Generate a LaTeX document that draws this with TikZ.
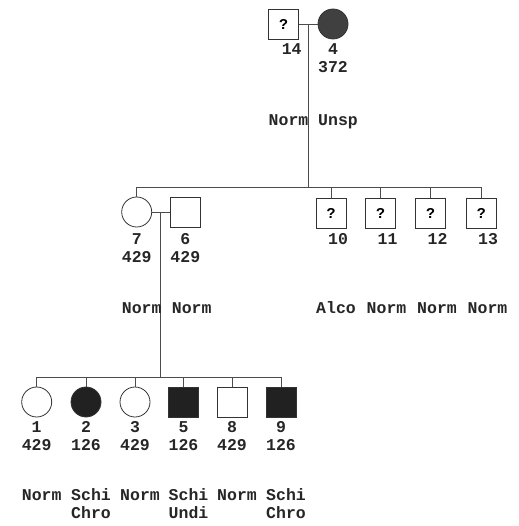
\documentclass[tikz,border=0pt]{standalone}
\usepackage{fontspec}
\newfontfamily\pedfont{Liberation Mono}
\begin{document}
\begin{tikzpicture}[x=1pt,y=-1pt,
  ln/.style={line width=0.6pt, draw=black!70},
  shp/.style={draw=black!80, line width=0.8pt, inner sep=0pt, minimum size=30pt, font=\pedfont\bfseries\fontsize{15}{18}\selectfont},
  male/.style={shp, rectangle},
  female/.style={shp, circle},
  aff/.style={fill=black!87},
  txt/.style={font=\pedfont\bfseries\fontsize{16.5}{18}\selectfont, inner sep=0pt, anchor=base, text=black!85},
  word/.style={txt, anchor=base west}]
\useasboundingbox (0,0) rectangle (518,526);

% generation 1
\node[male] (p14) at (283.5,24) {?};
\node[female,aff,fill=black!75] (p4) at (333,24) {};
\draw[ln] (p14.east) -- (p4.west);
\coordinate (c1) at (308,24);
\coordinate (s1) at (308,187);
\draw[ln] (c1) -- (s1);
\node[txt] (l14a) at (291.7,55) {14};
\node[txt] (l4a) at (333,55) {4};
\node[txt] (l4b) at (333,72.5) {372};
\node[word] (w14) at (268.5,126) {Norm};
\node[word] (w4) at (318,126) {Unsp};

% generation 2
\node[female] (p7) at (136.7,212) {};
\node[male] (p6) at (185.3,212) {};
\node[male] (p10) at (331,213.5) {?};
\node[male] (p11) at (380.5,213.5) {?};
\node[male] (p12) at (430.5,213.5) {?};
\node[male] (p13) at (481.3,213.5) {?};
\draw[ln] (p7.north |- s1) -- (p13.north |- s1);
\foreach \p in {p7,p10,p11,p12,p13} \draw[ln] (\p.north) -- (\p.north |- s1);
\draw[ln] (p7.east) -- (p6.west);
\coordinate (c2) at (160.7,212);
\coordinate (s2) at (160.7,377);
\draw[ln] (c2) -- (s2);

\node[txt] (l7a) at (136.7,244) {7};
\node[txt] (l7b) at (136.7,262) {429};
\node[txt] (l6a) at (185.3,244) {6};
\node[txt] (l6b) at (185.3,262) {429};
\node[txt] (l10) at (338,244.5) {10};
\node[txt] (l11) at (387.5,244.5) {11};
\node[txt] (l12) at (437.5,244.5) {12};
\node[txt] (l13) at (488,244.5) {13};

\node[word] (w7) at (121.7,313) {Norm};
\node[word] (w6) at (171.7,313) {Norm};
\node[word] (w10) at (316,313) {Alco};
\node[word] (w11) at (366.5,313) {Norm};
\node[word] (w12) at (417,313) {Norm};
\node[word] (w13) at (467.5,313) {Norm};

% generation 3
\node[female] (p1) at (36.7,402) {};
\node[female,aff] (p2) at (86,402) {};
\node[female] (p3) at (135,402) {};
\node[male,aff] (p5) at (183.5,402) {};
\node[male] (p8) at (232,402) {};
\node[male,aff] (p9) at (281,402) {};
\draw[ln] (p1.north |- s2) -- (p9.north |- s2);
\foreach \p in {p1,p2,p3,p5,p8,p9} \draw[ln] (\p.north) -- (\p.north |- s2);

\node[txt] (l1a) at (36.7,432) {1};
\node[txt] (l1b) at (36.7,450) {429};
\node[txt] (l2a) at (86,432) {2};
\node[txt] (l2b) at (86,450) {126};
\node[txt] (l3a) at (135,432) {3};
\node[txt] (l3b) at (135,450) {429};
\node[txt] (l5a) at (183.5,432) {5};
\node[txt] (l5b) at (183.5,450) {126};
\node[txt] (l8a) at (232,432) {8};
\node[txt] (l8b) at (232,450) {429};
\node[txt] (l9a) at (281,432) {9};
\node[txt] (l9b) at (281,450) {126};

\node[word] (w1) at (21.7,500) {Norm};
\node[word] (w2) at (71,500) {Schi};
\node[word] (w2b) at (71,518) {Chro};
\node[word] (w3) at (120,500) {Norm};
\node[word] (w5) at (168.5,500) {Schi};
\node[word] (w5b) at (168.5,518) {Undi};
\node[word] (w8) at (217,500) {Norm};
\node[word] (w9) at (266,500) {Schi};
\node[word] (w9b) at (266,518) {Chro};
\end{tikzpicture}
\end{document}
